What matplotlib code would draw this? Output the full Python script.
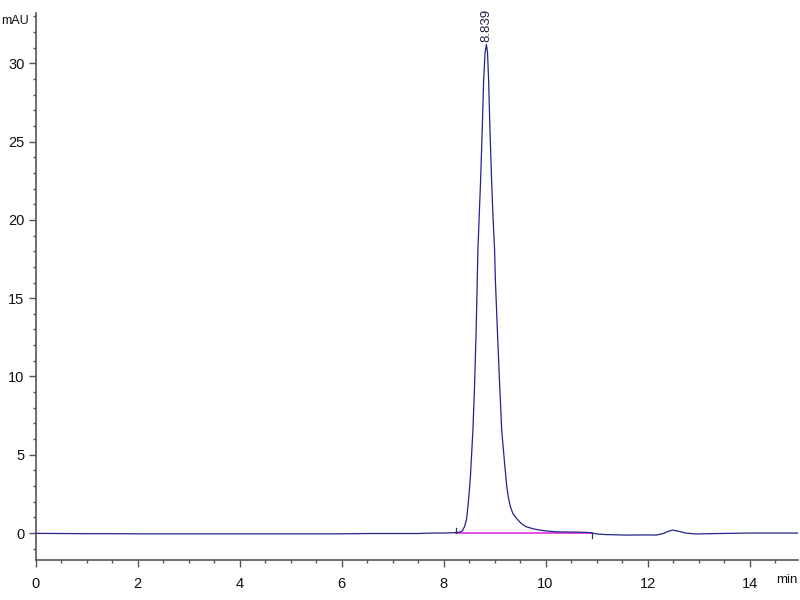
import matplotlib
matplotlib.use("Agg")
import matplotlib.pyplot as plt
from matplotlib.ticker import MultipleLocator

# ---- data ----
time_min = [0.0, 0.5, 1.0, 1.5, 2.0, 2.5, 3.0, 4.0, 5.0, 6.0, 6.5, 7.0, 7.5, 7.8, 8.0,
            8.2, 8.3, 8.35, 8.37, 8.41, 8.45, 8.478, 8.50, 8.525, 8.55, 8.576, 8.61,
            8.64, 8.662, 8.674, 8.70, 8.727, 8.76, 8.786, 8.815, 8.84, 8.862, 8.884,
            8.91, 8.942, 8.97, 9.001, 9.015, 9.06, 9.099, 9.14, 9.197, 9.24, 9.27,
            9.31, 9.36, 9.43, 9.52, 9.62, 9.75, 9.88, 10.0, 10.2, 10.4, 10.6, 10.8,
            10.9, 11.0, 11.2, 11.6, 12.0, 12.17, 12.3, 12.4, 12.49, 12.6, 12.75,
            12.95, 13.2, 13.6, 14.0, 14.5, 14.95]
signal_mau = [-0.02, -0.03, -0.04, -0.04, -0.05, -0.05, -0.05, -0.05, -0.05, -0.05,
              -0.03, -0.03, -0.03, 0.0, 0.0,
              0.02, 0.05, 0.10, 0.15, 0.40, 0.85, 1.68, 2.5, 3.5, 5.0, 6.58, 9.58,
              13.0, 16.28, 18.07, 20.3, 22.54, 25.9, 28.93, 30.7, 31.2, 30.7, 28.93,
              25.8, 22.54, 20.2, 18.07, 16.28, 12.6, 9.58, 6.58, 4.45, 2.96, 2.3,
              1.68, 1.25, 0.94, 0.62, 0.40, 0.28, 0.19, 0.14, 0.08, 0.07, 0.06, 0.04,
              0.02, -0.06, -0.10, -0.13, -0.12, -0.13, -0.04, 0.10, 0.19, 0.12, 0.0,
              -0.06, -0.04, -0.02, 0.0, 0.0, 0.0]

peak_rt = 8.839
peak_height = 31.2
peak_label = "8.839"

baseline_t = [8.25, 10.92]
baseline_y = [0.02, 0.02]

start_marker_t = [8.25, 8.25]
start_marker_y = [0.02, 0.30]
end_marker_t = [10.92, 10.92]
end_marker_y = [0.02, -0.30]

x_major = [0, 2, 4, 6, 8, 10, 12, 14]
y_major = [0, 5, 10, 15, 20, 25, 30]

font = ['Liberation Sans', 'DejaVu Sans']
plt.rcParams['font.family'] = font

fig = plt.figure(figsize=(8, 6), dpi=100)
ax = fig.add_axes([0.0444, 0.0667, 0.9531, 0.9113])

ax.plot(time_min, signal_mau, color='#23238a', lw=0.9, zorder=3)
ax.plot(baseline_t, baseline_y, color='#e040e0', lw=1.3, zorder=2)
ax.plot(start_marker_t, start_marker_y, color='#333355', lw=0.9, zorder=3)
ax.plot(end_marker_t, end_marker_y, color='#333355', lw=0.9, zorder=3)

ax.text(peak_rt, peak_height + 0.15, peak_label, rotation=90, ha='center', va='bottom',
        fontsize=9.5, color='#222244')

ax.set_xlim(0, 14.95)
ax.set_ylim(-1.72, 33.2)

for s in ['top', 'right']:
    ax.spines[s].set_visible(False)
for s in ['left', 'bottom']:
    ax.spines[s].set_color('#555555')
    ax.spines[s].set_linewidth(1.2)

ax.set_xticks(x_major)
ax.set_yticks(y_major)
ax.xaxis.set_minor_locator(MultipleLocator(0.5))
ax.yaxis.set_minor_locator(MultipleLocator(1))
ax.tick_params(axis='both', which='major', length=5, width=1, color='#555555',
               labelsize=10.5, labelcolor='#111111')
ax.tick_params(axis='both', which='minor', length=2.5, width=1, color='#555555')
ax.tick_params(axis='x', which='major', pad=7)
ax.tick_params(axis='y', which='major', pad=3)

fig.text(1 / 800, 1 - 20.5 / 600, 'mAU', ha='left', va='center', fontsize=9, color='#111111')
fig.text(798 / 800, 1 - 580 / 600, 'min', ha='right', va='center', fontsize=9.5, color='#111111')

fig.savefig('out.png', dpi=100)
